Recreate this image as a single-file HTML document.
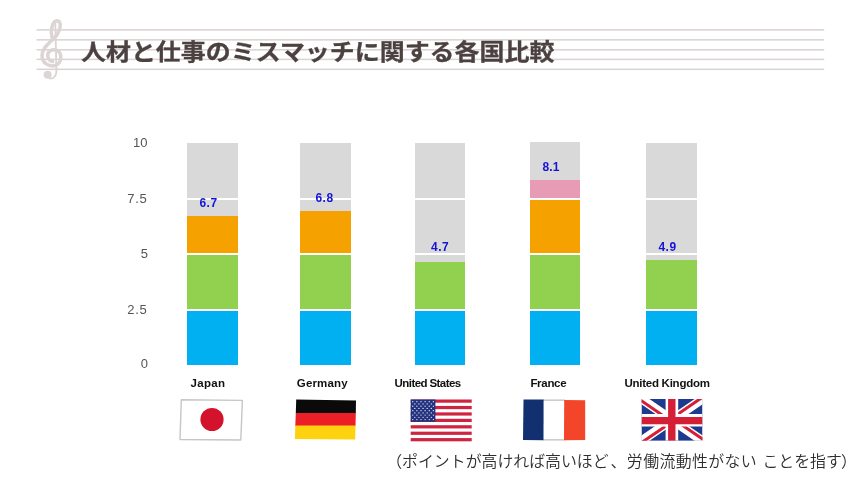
<!DOCTYPE html>
<html lang="ja">
<head>
<meta charset="utf-8">
<title>人材と仕事のミスマッチに関する各国比較</title>
<style>
html,body{margin:0;padding:0;background:#fff;}
body{width:860px;height:483px;position:relative;overflow:hidden;font-family:"Liberation Sans","Noto Sans CJK JP",sans-serif;}
.abs{position:absolute;}
.staff{position:absolute;left:36.5px;width:788px;height:1.4px;background:#dbd3d3;}
#title{position:absolute;left:80.8px;top:34.5px;font-size:22.4px;line-height:36px;font-weight:700;color:#4c4141;white-space:nowrap;letter-spacing:0;transform:scaleX(1.1145);transform-origin:0 50%;-webkit-text-stroke:0.3px #4c4141;}
.ax{position:absolute;width:40px;left:108px;text-align:right;font-size:13px;line-height:16px;color:#555;}
.bar{position:absolute;width:51px;overflow:hidden;}
.seg{position:absolute;left:0;width:100%;}
.val{position:absolute;width:51px;text-align:center;font-size:12px;line-height:14px;font-weight:700;color:#1414d8;letter-spacing:0.5px;}
.lab{position:absolute;white-space:nowrap;font-size:11.5px;line-height:14px;font-weight:700;color:#111;}
#note{position:absolute;left:386.2px;top:450.7px;font-size:15.9px;line-height:22px;color:#2e2e2e;white-space:nowrap;font-weight:350;}
</style>
</head>
<body>
<svg class="abs" style="left:0;top:0" width="860" height="90" viewBox="0 0 860 90"><g fill="#dad2d3"><rect x="36.5" y="29.15" width="787.7" height="1.5"/><rect x="36.5" y="39.10" width="787.7" height="1.5"/><rect x="36.5" y="49.05" width="787.7" height="1.5"/><rect x="36.5" y="58.65" width="787.7" height="1.5"/><rect x="36.5" y="68.55" width="787.7" height="1.5"/></g></svg>
<svg class="abs" style="left:0;top:0" width="100" height="100" viewBox="0 0 100 100">
<g fill="none" stroke="#ddd5d5" stroke-linecap="round" stroke-linejoin="round">
<path d="M52 37.5 C50 30 52.5 21 57 20.8 C61.5 21 61 29 57.5 34 C53.5 40.5 42 46 42 55.5 C42 63.5 49.5 67.3 55.5 65.3 C62.3 63 62.3 53 57 50.4 C52 48.2 47.2 51.5 47.8 56.2 C48.2 59.2 50 61 52.6 61.4" stroke-width="3.5"/>
<path d="M55.3 23 L56.4 70 C56.6 77 52 80 48.5 77.8" stroke-width="1.9"/>
</g>
<circle cx="47.6" cy="74.7" r="4" fill="#ddd5d5"/>
</svg>
<div id="title">人材と仕事のミスマッチに関する各国比較</div>

<div class="ax" style="top:135px;left:107.5px">10</div>
<div class="ax" style="top:190.5px;left:107.3px;letter-spacing:0.65px">7.5</div>
<div class="ax" style="top:245.5px">5</div>
<div class="ax" style="top:302px;left:107.3px;letter-spacing:0.65px">2.5</div>
<div class="ax" style="top:356px">0</div>

<!-- bars -->
<div class="bar" style="left:187px;top:143px;height:222.4px;background:#d9d9d9">
  <div class="seg" style="top:73px;height:150px;background:#f5a100"></div>
  <div class="seg" style="top:111px;height:112px;background:#92d050"></div>
  <div class="seg" style="top:167px;height:56px;background:#00b0f0"></div>
</div>
<div class="bar" style="left:300px;top:143px;height:222.4px;background:#d9d9d9">
  <div class="seg" style="top:67.5px;height:155px;background:#f5a100"></div>
  <div class="seg" style="top:111px;height:112px;background:#92d050"></div>
  <div class="seg" style="top:167px;height:56px;background:#00b0f0"></div>
</div>
<div class="bar" style="left:415px;width:50.4px;top:143px;height:222.4px;background:#d9d9d9">
  <div class="seg" style="top:119px;height:104px;background:#92d050"></div>
  <div class="seg" style="top:167px;height:56px;background:#00b0f0"></div>
</div>
<div class="bar" style="left:530px;width:50.4px;top:141.6px;height:223.8px;background:#d9d9d9">
  <div class="seg" style="top:38.8px;height:20px;background:#e89bb5"></div>
  <div class="seg" style="top:57px;height:167px;background:#f5a100"></div>
  <div class="seg" style="top:112px;height:112px;background:#92d050"></div>
  <div class="seg" style="top:168px;height:56px;background:#00b0f0"></div>
</div>
<div class="bar" style="left:646.4px;width:50.7px;top:143px;height:222.4px;background:#d9d9d9">
  <div class="seg" style="top:117px;height:106px;background:#92d050"></div>
  <div class="seg" style="top:167px;height:56px;background:#00b0f0"></div>
</div>
<!-- white gridlines -->
<div class="abs" style="left:180px;width:530px;top:198px;height:2px;background:#fff"></div>
<div class="abs" style="left:180px;width:530px;top:253px;height:2px;background:#fff"></div>
<div class="abs" style="left:180px;width:530px;top:309px;height:2px;background:#fff"></div>

<div class="val" style="left:183px;top:196px">6.7</div>
<div class="val" style="left:299px;top:191px">6.8</div>
<div class="val" style="left:414.7px;top:239.8px">4.7</div>
<div class="val" style="left:525.6px;top:160.1px;letter-spacing:0.1px">8.1</div>
<div class="val" style="left:642px;top:240px">4.9</div>

<div class="lab" style="left:190.6px;top:376px;letter-spacing:0.3px">Japan</div>
<div class="lab" style="left:296.8px;top:376px;letter-spacing:0.15px">Germany</div>
<div class="lab" style="left:394.6px;top:376px;letter-spacing:-0.58px">United States</div>
<div class="lab" style="left:530.4px;top:376px;letter-spacing:-0.3px">France</div>
<div class="lab" style="left:624.4px;top:376px;letter-spacing:-0.25px">United Kingdom</div>

<!-- flags -->
<svg class="abs" style="left:0;top:0" width="860" height="483" viewBox="0 0 860 483">
 <path d="M181.3 399.7 L242.4 400.4 L240.8 440 L180 439.5 Z" fill="#fff" stroke="#c6c6c6" stroke-width="1.4" stroke-linejoin="round"/>
 <circle cx="212" cy="419.5" r="11.6" fill="#d3122b"/>
</svg>
<svg class="abs" style="left:0;top:0" width="860" height="483" viewBox="0 0 860 483">
 <path d="M296.2 399.6 L356 400.4 L355.8 413.2 L295.8 413.2 Z" fill="#0a0a0a"/>
 <path d="M295.8 412.9 L355.8 412.9 L355.5 425.9 L295.3 425.9 Z" fill="#ec1f27"/>
 <path d="M295.3 425.6 L355.5 425.6 L355.2 439.6 L294.9 439.1 Z" fill="#ffd20f"/>
</svg>
<svg class="abs" style="left:0;top:0" width="860" height="483" viewBox="0 0 860 483">
<rect x="410.7" y="399.5" width="61.0" height="41.8" fill="#fff"/>
<g fill="#d0233f">
<rect x="410.7" y="399.50" width="61.0" height="3.22"/>
<rect x="410.7" y="405.93" width="61.0" height="3.22"/>
<rect x="410.7" y="412.36" width="61.0" height="3.22"/>
<rect x="410.7" y="418.79" width="61.0" height="3.22"/>
<rect x="410.7" y="425.22" width="61.0" height="3.22"/>
<rect x="410.7" y="431.65" width="61.0" height="3.22"/>
<rect x="410.7" y="438.08" width="61.0" height="3.22"/>
</g>
<rect x="410.7" y="399.5" width="24.7" height="22.3" fill="#22327e"/>
<g fill="#fff">
<circle cx="412.76" cy="401.73" r="0.62"/>
<circle cx="416.88" cy="401.73" r="0.62"/>
<circle cx="420.99" cy="401.73" r="0.62"/>
<circle cx="425.11" cy="401.73" r="0.62"/>
<circle cx="429.22" cy="401.73" r="0.62"/>
<circle cx="433.34" cy="401.73" r="0.62"/>
<circle cx="414.82" cy="403.96" r="0.62"/>
<circle cx="418.93" cy="403.96" r="0.62"/>
<circle cx="423.05" cy="403.96" r="0.62"/>
<circle cx="427.17" cy="403.96" r="0.62"/>
<circle cx="431.28" cy="403.96" r="0.62"/>
<circle cx="412.76" cy="406.19" r="0.62"/>
<circle cx="416.88" cy="406.19" r="0.62"/>
<circle cx="420.99" cy="406.19" r="0.62"/>
<circle cx="425.11" cy="406.19" r="0.62"/>
<circle cx="429.22" cy="406.19" r="0.62"/>
<circle cx="433.34" cy="406.19" r="0.62"/>
<circle cx="414.82" cy="408.42" r="0.62"/>
<circle cx="418.93" cy="408.42" r="0.62"/>
<circle cx="423.05" cy="408.42" r="0.62"/>
<circle cx="427.17" cy="408.42" r="0.62"/>
<circle cx="431.28" cy="408.42" r="0.62"/>
<circle cx="412.76" cy="410.65" r="0.62"/>
<circle cx="416.88" cy="410.65" r="0.62"/>
<circle cx="420.99" cy="410.65" r="0.62"/>
<circle cx="425.11" cy="410.65" r="0.62"/>
<circle cx="429.22" cy="410.65" r="0.62"/>
<circle cx="433.34" cy="410.65" r="0.62"/>
<circle cx="414.82" cy="412.88" r="0.62"/>
<circle cx="418.93" cy="412.88" r="0.62"/>
<circle cx="423.05" cy="412.88" r="0.62"/>
<circle cx="427.17" cy="412.88" r="0.62"/>
<circle cx="431.28" cy="412.88" r="0.62"/>
<circle cx="412.76" cy="415.11" r="0.62"/>
<circle cx="416.88" cy="415.11" r="0.62"/>
<circle cx="420.99" cy="415.11" r="0.62"/>
<circle cx="425.11" cy="415.11" r="0.62"/>
<circle cx="429.22" cy="415.11" r="0.62"/>
<circle cx="433.34" cy="415.11" r="0.62"/>
<circle cx="414.82" cy="417.34" r="0.62"/>
<circle cx="418.93" cy="417.34" r="0.62"/>
<circle cx="423.05" cy="417.34" r="0.62"/>
<circle cx="427.17" cy="417.34" r="0.62"/>
<circle cx="431.28" cy="417.34" r="0.62"/>
<circle cx="412.76" cy="419.57" r="0.62"/>
<circle cx="416.88" cy="419.57" r="0.62"/>
<circle cx="420.99" cy="419.57" r="0.62"/>
<circle cx="425.11" cy="419.57" r="0.62"/>
<circle cx="429.22" cy="419.57" r="0.62"/>
<circle cx="433.34" cy="419.57" r="0.62"/>
</g></svg>
<svg class="abs" style="left:0;top:0" width="860" height="483" viewBox="0 0 860 483">
 <path d="M543 400.2 H565 M543 439.8 H565" stroke="#bfbfbf" stroke-width="1.2" fill="none"/>
 <path d="M523.5 399.5 L543.6 399.4 L543.5 440.2 L523 440.1 Z" fill="#12306f"/>
 <path d="M564.2 400 L585.2 400.2 L585.2 440 L564 440.2 Z" fill="#f2452a"/>
</svg>
<svg class="abs" style="left:0;top:0" width="860" height="483" viewBox="0 0 860 483">
<defs><clipPath id="uk"><rect x="641.5" y="399.0" width="61.0" height="41.8" rx="0.8"/></clipPath></defs>
<g clip-path="url(#uk)">
<rect x="641.5" y="399.0" width="61.0" height="41.8" fill="#1d3a8f"/>
<path d="M641.5 399.0 L702.5 440.8 M702.5 399.0 L641.5 440.8" stroke="#fff" stroke-width="9"/>
<path d="M638.18 398.54 L671.15 421.14 M672.85 418.66 L705.82 441.26 M639.87 443.73 L672.85 421.14 M671.15 418.66 L704.13 396.07" stroke="#d41f36" stroke-width="3" fill="none"/>
<path d="M671.9 399.0 V440.8 M641.5 420.2 H702.5" stroke="#fff" stroke-width="12.6"/>
<path d="M671.8 399.0 V440.8 M641.5 420.6 H702.5" stroke="#d41f36" stroke-width="7.4"/>
</g></svg>

<div id="note">（ポイントが高ければ高いほど<span style="margin-left:1.9px;letter-spacing:0.4px">、労働流動性がない</span><span style="margin-left:0.8px"> </span>ことを指す<span style="margin-left:-0.8px">）</span></div>
</body>
</html>
